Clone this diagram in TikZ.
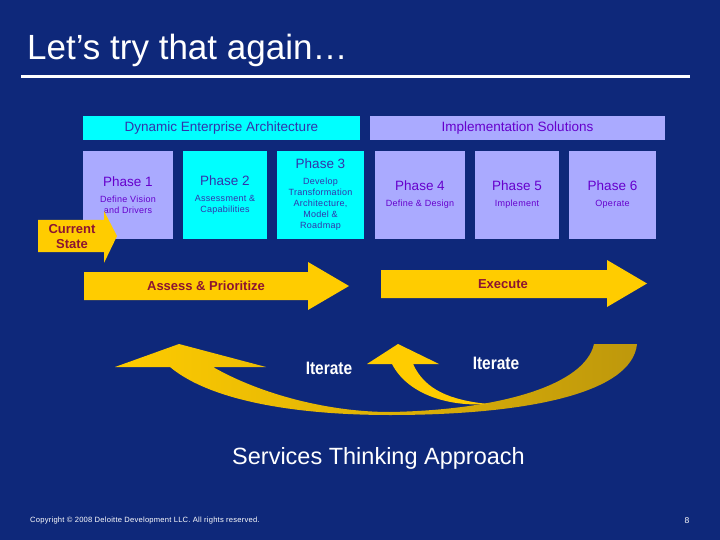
\documentclass[tikz,border=0pt]{standalone}
\usepackage{fontspec}
\setmainfont{Liberation Sans}
\newfontfamily\narrowsans{Liberation Sans}[FakeStretch=0.86]
\newfontfamily\spacedsans{Liberation Sans}[LetterSpace=3]
\usepackage{xcolor}
\definecolor{slidebg}{RGB}{14,40,122}
\definecolor{boxcyan}{RGB}{0,255,255}
\definecolor{boxlav}{RGB}{170,170,255}
\definecolor{txtblue}{RGB}{51,51,170}
\definecolor{txtpurple}{RGB}{102,0,204}
\definecolor{arrowgold}{RGB}{255,204,0}
\definecolor{darkgold}{RGB}{190,152,12}
\definecolor{arrowtxt}{RGB}{140,20,50}
\newcommand{\phasetitle}[1]{{\rmfamily\fontsize{13.5}{16}\selectfont #1}}
\tikzset{
  headbox/.style={minimum width=#1, minimum height=24pt, inner sep=0pt,
    font=\fontsize{13.5}{16}\selectfont},
  phasebox/.style={minimum width=#1, minimum height=87pt, inner sep=0pt,
    align=center, font=\spacedsans\fontsize{9}{11}\selectfont},
  cyanbox/.style={fill=boxcyan, text=txtblue},
  lavbox/.style={fill=boxlav, text=txtpurple},
  arrowlabel/.style={text=arrowtxt, align=center,
    font=\bfseries\fontsize{13}{15}\selectfont},
  iterlabel/.style={text=white, font=\narrowsans\bfseries\fontsize{18}{20}\selectfont}
}

\begin{document}
\begin{tikzpicture}[x=1pt,y=-1pt]
\fill[slidebg] (0,0) rectangle (720,540);
\useasboundingbox (0,0) rectangle (720,540);

\node[anchor=base west, inner sep=0pt, text=white, font=\fontsize{35}{40}\selectfont] (title) at (27,60) {Let’s try that again…};
\draw[white, line width=3pt] (21,77) -- (690,77);

\node[headbox=277pt, cyanbox] (dea) at (221.5,128) {Dynamic Enterprise Architecture};
\node[headbox=295pt, lavbox] (impl) at (517.5,128) {Implementation Solutions};

\node[phasebox=90pt, lavbox] (p1) at (128,195) {\phasetitle{Phase 1}\\[5pt] Define Vision\\ and Drivers};
\node[phasebox=84pt, cyanbox] (p2) at (225,195) {\phasetitle{Phase 2}\\[5pt] Assessment \&\\ Capabilities};
\node[phasebox=87pt, cyanbox] (p3) at (320.5,195) {\phasetitle{Phase 3}\\[5pt] Develop\\ Transformation\\ Architecture,\\ Model \&\\ Roadmap};
\node[phasebox=90pt, lavbox] (p4) at (420,195) {\phasetitle{Phase 4}\\[5pt] Define \& Design};
\node[phasebox=84pt, lavbox] (p5) at (517,195) {\phasetitle{Phase 5}\\[5pt] Implement};
\node[phasebox=87pt, lavbox] (p6) at (612.5,195) {\phasetitle{Phase 6}\\[5pt] Operate};

\fill[arrowgold] (38,220) -- (104,220) -- (104,211) -- (117,236) -- (104,263) -- (104,252) -- (38,252) -- cycle;
\node[arrowlabel] (current) at (72,236.5) {Current\\ State};

\fill[arrowgold] (84,272) -- (308,272) -- (308,262) -- (349,286) -- (308,310) -- (308,300) -- (84,300) -- cycle;
\node[arrowlabel] (assess) at (206,286) {Assess \& Prioritize};

\fill[arrowgold] (381,270) -- (607,270) -- (607,260) -- (647,283.5) -- (607,307) -- (607,298) -- (381,298) -- cycle;
\node[arrowlabel] (execute) at (503,284) {Execute};

\shade[left color=arrowgold, middle color=arrowgold, right color=darkgold]
  (115,367) -- (179,344) -- (266,367) -- (213,367)
  .. controls (262,395) and (330,412) .. (390,412)
  .. controls (500,410) and (585,385) .. (594,344)
  -- (637,344)
  .. controls (632,395) and (520,415) .. (390,415)
  .. controls (300,415) and (212,402) .. (170,367) -- cycle;
\fill[arrowgold] (367,364) -- (398,344) -- (439,364) -- (413,364)
  .. controls (425,390) and (450,400) .. (488,404)
  .. controls (450,407) and (408,395) .. (392,364) -- cycle;

\node[iterlabel] (iter1) at (329,368) {Iterate};
\node[iterlabel] (iter2) at (496,363) {Iterate};

\node[text=white, font=\fontsize{23.5}{28}\selectfont] (approach) at (378.5,458) {Services Thinking Approach};

\node[anchor=west, inner sep=0pt, text=white, font=\spacedsans\fontsize{7.6}{9}\selectfont] (copy) at (30,521) {Copyright © 2008 Deloitte Development LLC. All rights reserved.};
\node[inner sep=0pt, text=white, font=\fontsize{8.5}{10}\selectfont] (page) at (687,521) {8};
\end{tikzpicture}
\end{document}
